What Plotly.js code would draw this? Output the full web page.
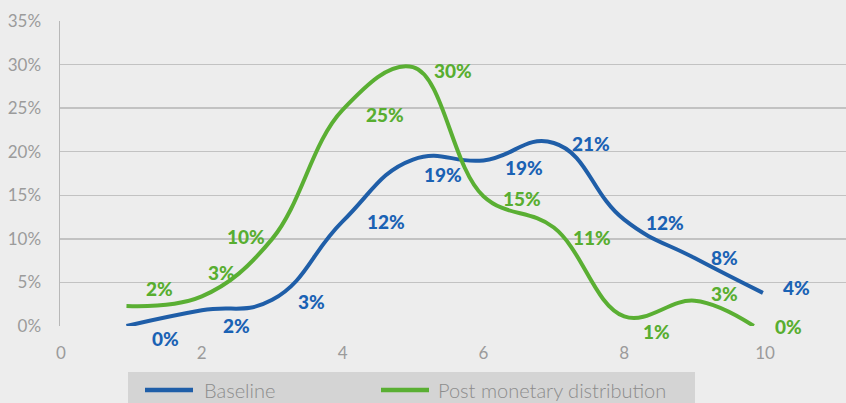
<!DOCTYPE html>
<html>
<head>
<meta charset="utf-8">
<script src="https://cdn.plot.ly/plotly-3.0.1.min.js"></script>
<style>
html,body{margin:0;padding:0;background:#ededed;}
#chart{width:846px;height:403px;}
</style>
</head>
<body>
<div id="chart"></div>
<script>
// ---- data ----
const seriesNames = ["Baseline", "Post monetary distribution"];
const baselineX = [0.93, 2, 3, 4, 5, 6, 7, 8, 9, 9.97];
const baselineY = [0.000, 0.018, 0.030, 0.120, 0.191, 0.190, 0.210, 0.122, 0.078, 0.038];
const postX = [0.93, 2, 3, 4, 5, 6, 7, 8, 9, 9.84];
const postY = [0.023, 0.034, 0.100, 0.248, 0.297, 0.149, 0.113, 0.011, 0.029, 0.000];
const xTicks = [0, 2, 4, 6, 8, 10];
const yTicks = [0, 0.05, 0.10, 0.15, 0.20, 0.25, 0.30, 0.35];

// ---- label offsets (pixels, style only) ----
const baseDx = [39.5, 34.5, 39, 43.5, 30, 40.5, 37, 41, 30, 34];
const baseDy = [12, 15, 2, 0, 15, 7.5, 0, 3, -1, -5];
const postDx = [33, 20, -26.5, 42, 40, 39, 38, 32, 30, 35];
const postDy = [-17, -24, -2, 5, 3, 2, 9.5, 15, -7.5, 0];

const blue = "#1f5ea8", blueText = "#1a62b4";
const green = "#5aaf33", greenText = "#58ae30";
const labelFont = "'Lato Black', Lato, sans-serif";

function pct(v){ return Math.round(v*100) + "%"; }

const traces = [
  {x: baselineX, y: baselineY, name: seriesNames[0], type: "scatter", mode: "lines",
   line: {color: blue, width: 4, shape: "spline", smoothing: 1.3}, hoverinfo: "skip"},
  {x: postX, y: postY, name: seriesNames[1], type: "scatter", mode: "lines",
   line: {color: green, width: 4, shape: "spline", smoothing: 1.1}, hoverinfo: "skip"}
];

const annotations = [];
baselineX.forEach((x, i) => annotations.push({
  x: x, y: baselineY[i], xref: "x", yref: "y", text: pct(baselineY[i]), showarrow: false,
  xshift: baseDx[i], yshift: -baseDy[i], xanchor: "center", yanchor: "middle",
  font: {family: labelFont, size: 19, color: blueText, weight: 900}
}));
postX.forEach((x, i) => annotations.push({
  x: x, y: postY[i], xref: "x", yref: "y", text: pct(postY[i]), showarrow: false,
  xshift: postDx[i], yshift: -postDy[i], xanchor: "center", yanchor: "middle",
  font: {family: labelFont, size: 19, color: greenText, weight: 900}
}));

// manual legend (paper coords computed from plot area)
const L = 60, T = 21, W = 786, H = 305;
function px(xp){ return (xp - L) / W; }
function py(yp){ return (T + H - yp) / H; }
const shapes = [
  {type: "rect", xref: "paper", yref: "paper", x0: px(128), x1: px(695), y0: py(372), y1: py(410),
   fillcolor: "#d4d4d4", line: {width: 0}, layer: "below"},
  {type: "line", xref: "paper", yref: "paper", x0: px(145), x1: px(193), y0: py(390), y1: py(390),
   line: {color: blue, width: 4.5}},
  {type: "line", xref: "paper", yref: "paper", x0: px(381), x1: px(429), y0: py(390), y1: py(390),
   line: {color: green, width: 4.5}}
];
annotations.push({xref: "paper", yref: "paper", x: px(202), y: py(390), xanchor: "left", yanchor: "middle",
  text: seriesNames[0], showarrow: false, font: {family: "Lato, sans-serif", size: 20, color: "#8c8c8c", weight: 300}});
annotations.push({xref: "paper", yref: "paper", x: px(436), y: py(390), xanchor: "left", yanchor: "middle",
  text: seriesNames[1], showarrow: false, font: {family: "Lato, sans-serif", size: 20, color: "#8c8c8c", weight: 300}});

const layout = {
  width: 846, height: 403,
  margin: {l: L, r: 0, t: T, b: 403 - T - H, pad: 0},
  paper_bgcolor: "#ededed", plot_bgcolor: "#ededed",
  showlegend: false,
  font: {family: "Lato, sans-serif", size: 17, color: "#9b9b9b"},
  xaxis: {range: [-0.0142, 11.15], tickvals: xTicks, ticktext: xTicks.map(String),
          showgrid: false, zeroline: false, showline: false, ticks: "",
          ticklabelstandoff: 15, tickfont: {size: 17, color: "#9b9b9b"}, fixedrange: true},
  yaxis: {range: [0, 0.35], tickvals: yTicks, tickformat: ".0%",
          showgrid: true, gridcolor: "#c2c2c2", gridwidth: 1.5, zeroline: false,
          showline: true, linecolor: "#b8b8b8", linewidth: 1.5, ticks: "",
          ticklabelstandoff: 14, tickfont: {size: 17, color: "#9b9b9b"}, fixedrange: true},
  shapes: shapes,
  annotations: annotations
};

Plotly.newPlot("chart", traces, layout, {staticPlot: true, displayModeBar: false});
</script>
</body>
</html>
